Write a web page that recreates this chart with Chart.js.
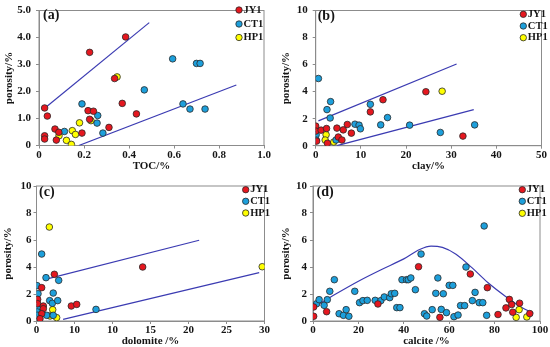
<!DOCTYPE html>
<html>
<head>
<meta charset="utf-8">
<title>porosity</title>
<script src="https://cdn.jsdelivr.net/npm/chart.js@4.4.0/dist/chart.umd.min.js"></script>
<style>
  html, body { margin: 0; padding: 0; background: #fff; overflow: hidden; }
  .panel { position: absolute; }
</style>
</head>
<body>
<div class="panel" style="left:0;top:0;width:275px;height:172px"><canvas id="tocChart"></canvas></div>
<div class="panel" style="left:275px;top:0;width:275px;height:172px"><canvas id="clayChart"></canvas></div>
<div class="panel" style="left:0;top:172px;width:275px;height:175px"><canvas id="doloChart"></canvas></div>
<div class="panel" style="left:275px;top:172px;width:275px;height:175px"><canvas id="calcChart"></canvas></div>
<script>
// --- Data: [x, porosity %] ---
const seriesNames = ['JY1', 'CT1', 'HP1'];
const porTicks5 = ['0', '1.0', '2.0', '3.0', '4.0', '5.0'];
const porTicks10 = ['0', '2', '4', '6', '8', '10'];

// (a) TOC
const tocTicks = ['0', '0.2', '0.4', '0.6', '0.8', '1.0'];
const tocJY1 = [[0.025, 1.39], [0.037, 1.09], [0.025, 0.36], [0.025, 0.24], [0.071, 0.61], [0.088, 0.49], [0.077, 0.2],
  [0.191, 0.46], [0.218, 1.29], [0.242, 1.27], [0.225, 0.97], [0.311, 0.67], [0.336, 2.48], [0.37, 1.56],
  [0.433, 1.17], [0.225, 3.45], [0.385, 4.02]];
const tocCT1 = [[0.191, 1.54], [0.261, 1.11], [0.258, 0.83], [0.113, 0.52], [0.284, 0.46], [0.468, 2.06], [0.594, 3.21],
  [0.70, 3.04], [0.716, 3.04], [0.64, 1.54], [0.671, 1.35], [0.738, 1.35]];
const tocHP1 = [[0.148, 0.55], [0.162, 0.41], [0.089, 0.36], [0.18, 0.84], [0.231, 0.92], [0.122, 0.19], [0.144, 0.04],
  [0.347, 2.54]];
const tocUpper = [[0.025, 1.38], [0.49, 4.55]];
const tocLower = [[0.177, 0], [0.877, 2.24]];

// (b) clay
const clayTicks = ['0', '10', '20', '30', '40', '50'];
const clayJY1 = [[0, 1.45], [0, 1.08], [0.2, 0.34], [1.2, 1.15], [2.4, 1.27], [2.6, 0.18], [4.7, 1.3], [5.0, 0.64],
  [5.8, 0.42], [6.1, 1.17], [7.0, 1.57], [7.9, 0.93], [12.1, 2.5], [14.9, 3.4], [24.4, 3.99], [32.6, 0.71]];
const clayCT1 = [[0.6, 4.97], [3.3, 3.26], [2.5, 2.67], [3.2, 2.05], [0.1, 0.81], [0.1, 0.42], [4.5, 0.42], [8.7, 1.59],
  [9.6, 1.52], [9.9, 1.25], [12.1, 3.06], [14.4, 1.54], [15.9, 2.08], [20.8, 1.52], [27.6, 0.98], [35.2, 1.54]];
const clayHP1 = [[2.3, 0.81], [2.1, 0.42], [4.0, 0.27], [28.0, 4.03]];
const clayUpper = [[0.6, 1.84], [31.2, 6.04]];
const clayLower = [[4.7, 0], [35.0, 2.67]];

// (c) dolomite (tick labels as printed in the figure)
const doloTicks = ['0', '10', '10', '15', '20', '25', '30'];
const doloJY1 = [[0.68, 2.47], [0.15, 1.6], [0.15, 1.28], [0.9, 1.11], [0.9, 0.91], [0.68, 0.54], [0.46, 0.17],
  [2.35, 3.46], [4.58, 1.11], [5.29, 1.23], [13.97, 4.0]];
const doloCT1 = [[0.07, 2.62], [0.2, 2.02], [0.1, 0.96], [0.1, 0.67], [0.1, 0.42], [0.68, 4.96], [1.25, 3.21],
  [2.92, 3.01], [2.2, 2.07], [1.73, 1.51], [2.08, 1.31], [2.79, 1.51], [1.34, 0.42], [2.2, 0.42], [7.83, 0.86]];
const doloHP1 = [[1.69, 6.96], [2.13, 0.84], [1.78, 0.37], [2.65, 0.25], [29.7, 4.02]];
const doloUpper = [[1.03, 3.06], [21.4, 5.98]];
const doloLower = [[3.5, 0.12], [29.3, 3.58]];

// (d) calcite
const calcTicks = ['0', '20', '40', '60', '80', '100'];
const calcJY1 = [[0.3, 1.04], [0.3, 0.35], [6.0, 0.69], [28.6, 1.26], [46.5, 4.02], [55.9, 0.27], [69.3, 3.48],
  [76.8, 2.47], [81.5, 0.48], [85.0, 0.97], [86.5, 1.6], [87.5, 1.22], [88.0, 0.65], [91.0, 1.32], [95.5, 0.55]];
const calcCT1 = [[1.6, 1.28], [2.7, 1.58], [4.9, 1.16], [6.3, 1.58], [7.4, 2.2], [9.4, 3.06], [11.5, 0.54],
  [13.4, 0.42], [14.6, 0.84], [15.8, 0.35], [18.4, 2.2], [20.5, 1.36], [22.0, 1.51], [23.9, 1.53], [27.4, 1.53],
  [29.9, 1.51], [31.4, 1.78], [33.8, 1.73], [34.5, 2.02], [36.0, 2.05], [36.9, 0.99], [38.3, 0.99], [39.2, 3.06],
  [41.2, 3.06], [42.0, 3.06], [43.1, 3.19], [45.1, 2.32], [47.6, 4.96], [49.1, 0.54], [50.1, 0.37], [52.5, 0.84],
  [54.1, 2.05], [55.0, 3.19], [56.5, 0.86], [57.4, 2.02], [58.8, 0.62], [60.0, 2.64], [61.6, 2.64], [62.1, 0.32],
  [63.9, 0.44], [65.0, 1.14], [66.8, 1.14], [67.4, 4.0], [70.2, 1.51], [71.4, 2.12], [73.2, 1.36], [74.8, 1.36],
  [75.4, 7.04], [76.5, 0.42]];
const calcHP1 = [[89.5, 0.27], [90.8, 0.84], [94.2, 0.3]];
const calcCurve = [[0.8, 1.08], [10, 2.0], [20, 2.95], [30, 3.8], [40, 4.6], [47, 5.3], [52, 5.55], [57, 5.45],
  [63, 4.95], [70, 3.95], [77, 2.85], [85, 1.8], [92, 1.0], [97, 0.6]];

document.addEventListener('DOMContentLoaded', () => {
    const RED = '#e5171f';
    const BLUE = '#1d9fdb';
    const YELLOW = '#ffff00';
    const EDGE = '#2a2a2a';
    const FIT = '#3b3bb2';
    const AXIS = '#8c8c8c';
    const SERIF = "'Liberation Serif', 'Times New Roman', serif";

    Chart.defaults.font.family = SERIF;
    Chart.defaults.font.weight = 'bold';
    Chart.defaults.color = '#151515';

    const toXY = pts => pts.map(([x, y]) => ({ x, y }));

    // --- Plot frame, corner legend and panel tag ---
    const decoPlugin = {
        id: 'deco',
        beforeDatasetsDraw(chart) {
            const { ctx, chartArea: a } = chart;
            ctx.save();
            ctx.strokeStyle = AXIS;
            ctx.lineWidth = 1;
            ctx.strokeRect(a.left, a.top, a.right - a.left, a.bottom - a.top);
            ctx.restore();
        },
        afterDraw(chart, args, opts) {
            const { ctx, chartArea: a } = chart;
            ctx.save();
            ctx.textBaseline = 'middle';
            ctx.font = 'bold 14px ' + SERIF;
            ctx.fillStyle = '#151515';
            ctx.fillText(opts.tag, a.left + opts.tagDx, a.top + opts.tagDy);

            ctx.font = 'bold 10.5px ' + SERIF;
            seriesNames.forEach((name, i) => {
                const ds = chart.data.datasets[i];
                const y = opts.legendY[i];
                ctx.beginPath();
                ctx.arc(opts.legendX, y, 3.2, 0, Math.PI * 2);
                ctx.fillStyle = ds.backgroundColor;
                ctx.fill();
                ctx.lineWidth = 0.8;
                ctx.strokeStyle = EDGE;
                ctx.stroke();
                ctx.fillStyle = '#151515';
                ctx.fillText(name, opts.legendX + 4.5, y);
            });
            ctx.restore();
        }
    };

    function createPanel(id, p) {
        const ctx = document.getElementById(id).getContext('2d');
        const pointSet = (label, pts, color) => ({
            label, data: toXY(pts), backgroundColor: color, borderColor: EDGE,
            borderWidth: 0.8, pointRadius: 3.3, order: 1
        });
        const fitSet = pts => ({
            label: 'fit', data: toXY(pts), showLine: true, pointRadius: 0,
            borderColor: FIT, borderWidth: 1.2, order: 2,
            tension: p.curved ? 0.4 : 0,
            cubicInterpolationMode: p.curved ? 'monotone' : 'default'
        });

        new Chart(ctx, {
            type: 'scatter',
            data: {
                datasets: [
                    pointSet(seriesNames[0], p.jy1, RED),
                    pointSet(seriesNames[1], p.ct1, BLUE),
                    pointSet(seriesNames[2], p.hp1, YELLOW),
                    ...p.fits.map(fitSet)
                ]
            },
            options: {
                responsive: true,
                maintainAspectRatio: false,
                animation: false,
                layout: { padding: { top: p.padTop, right: p.padRight, left: 0, bottom: 0 } },
                plugins: {
                    legend: { display: false },
                    tooltip: { enabled: false },
                    deco: p.deco
                },
                scales: {
                    x: {
                        type: 'linear', min: p.xMin, max: p.xMax,
                        ticks: {
                            stepSize: p.xStep, autoSkip: false, maxRotation: 0, padding: 1,
                            font: { size: 11, lineHeight: 1 },
                            callback: (v, i) => p.xLabels[i]
                        },
                        grid: { drawOnChartArea: false, tickLength: 3, color: AXIS },
                        border: { color: AXIS },
                        title: {
                            display: true, text: p.xTitle,
                            font: { size: 11, lineHeight: 1 },
                            padding: { top: p.xTitlePad, bottom: 0 }
                        },
                        afterFit: s => { s.height = p.xAxisH; }
                    },
                    y: {
                        type: 'linear', min: 0, max: p.yMax,
                        ticks: {
                            stepSize: p.yStep, autoSkip: false, padding: p.yTickPad,
                            font: { size: 11, lineHeight: 1 },
                            callback: (v, i) => p.yLabels[i]
                        },
                        grid: { drawOnChartArea: false, tickLength: 3, color: AXIS },
                        border: { color: AXIS },
                        title: {
                            display: true, text: 'porosity/%',
                            font: { size: 11, lineHeight: 1.2 },
                            padding: { top: p.yTitlePad, bottom: 0 }
                        },
                        afterFit: s => { s.width = p.yAxisW; }
                    }
                }
            },
            plugins: [decoPlugin]
        });
    }

    // --- Build the four panels ---
    createPanel('tocChart', {
        jy1: tocJY1, ct1: tocCT1, hp1: tocHP1, fits: [tocUpper, tocLower],
        xMin: 0, xMax: 1, xStep: 0.2, xLabels: tocTicks, xTitle: 'TOC/%',
        yMax: 5, yStep: 1, yLabels: porTicks5,
        padTop: 6, padRight: 11, yAxisW: 39, xAxisH: 26.5,
        yTickPad: 5, yTitlePad: 2.4, xTitlePad: 0,
        deco: { tag: '(a)', tagDx: 4, tagDy: 4.5, legendX: 239, legendY: [10, 24, 37.5] }
    });

    createPanel('clayChart', {
        jy1: clayJY1, ct1: clayCT1, hp1: clayHP1, fits: [clayUpper, clayLower],
        xMin: 0, xMax: 50, xStep: 10, xLabels: clayTicks, xTitle: 'clay/%',
        yMax: 10, yStep: 2, yLabels: porTicks10,
        padTop: 9.3, padRight: 8.5, yAxisW: 40.7, xAxisH: 26.3,
        yTickPad: 5, yTitlePad: 5, xTitlePad: 0.8,
        deco: { tag: '(b)', tagDx: 2, tagDy: 5.5, legendX: 248.3, legendY: [14.3, 26, 37.7] }
    });

    createPanel('doloChart', {
        jy1: doloJY1, ct1: doloCT1, hp1: doloHP1, fits: [doloUpper, doloLower],
        xMin: 0, xMax: 30, xStep: 5, xLabels: doloTicks, xTitle: 'dolomite /%',
        yMax: 10, yStep: 2, yLabels: porTicks10,
        padTop: 14, padRight: 10.5, yAxisW: 36.5, xAxisH: 26,
        yTickPad: 2, yTitlePad: 1.7, xTitlePad: 1.2,
        deco: { tag: '(c)', tagDx: 2.5, tagDy: 6, legendX: 245.7, legendY: [17.7, 29.3, 41] }
    });

    createPanel('calcChart', {
        jy1: calcJY1, ct1: calcCT1, hp1: calcHP1, fits: [calcCurve], curved: true,
        xMin: 0, xMax: 100, xStep: 20, xLabels: calcTicks, xTitle: 'calcite /%',
        yMax: 10, yStep: 2, yLabels: porTicks10,
        padTop: 14, padRight: 10, yAxisW: 38, xAxisH: 26,
        yTickPad: 3, yTitlePad: 5, xTitlePad: 1.2,
        deco: { tag: '(d)', tagDx: 3.5, tagDy: 6, legendX: 247.3, legendY: [17.7, 29.3, 41.3] }
    });
});
</script>
</body>
</html>
